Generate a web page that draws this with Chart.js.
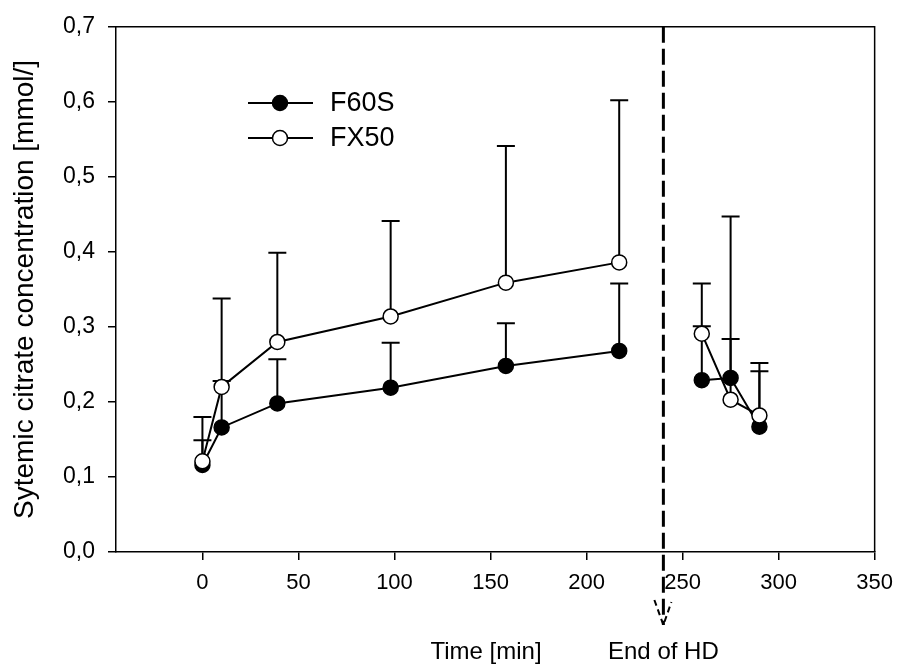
<!DOCTYPE html>
<html>
<head>
<meta charset="utf-8">
<script src="https://cdn.jsdelivr.net/npm/chart.js@4/dist/chart.umd.min.js"></script>
<style>
  body { margin: 0; background: #fff; }
  #wrap { width: 903px; height: 668px; }
</style>
</head>
<body>
<div id="wrap"><canvas id="citrateChart" width="903" height="668"></canvas></div>
<script>
// sampling times [min], during HD and after end of HD
const timesHD = [0, 10, 39, 98, 158, 217];
const timesPost = [260, 275, 290];
const hdEnd = 240;

// mean values [mmol/l]
const f60sHD = [0.116, 0.166, 0.198, 0.219, 0.248, 0.268];
const f60sPost = [0.229, 0.232, 0.167];
const fx50HD = [0.121, 0.220, 0.280, 0.314, 0.359, 0.386];
const fx50Post = [0.291, 0.203, 0.182];

// top of error bars (mean + SD)
const f60sErrHD = [0.149, 0.228, 0.257, 0.279, 0.305, 0.358];
const f60sErrPost = [0.301, 0.284, 0.241];
const fx50ErrHD = [0.180, 0.338, 0.399, 0.441, 0.541, 0.602];
const fx50ErrPost = [0.358, 0.447, 0.252];

const xTicks = [0, 50, 100, 150, 200, 250, 300, 350];
const yTicks = [0, 0.1, 0.2, 0.3, 0.4, 0.5, 0.6, 0.7];

const FONT = "'Liberation Sans', Arial, sans-serif";

function points(tA, vA, tB, vB) {
  const pts = tA.map((t, i) => ({ x: t, y: vA[i] }));
  pts.push({ x: hdEnd, y: null }); // break the line at end of HD
  return pts.concat(tB.map((t, i) => ({ x: t, y: vB[i] })));
}

const errorBars = {
  id: "errorBars",
  beforeDatasetsDraw(chart) {
    const { ctx, scales: { x, y } } = chart;
    const sets = [
      [timesHD.concat(timesPost), f60sHD.concat(f60sPost), f60sErrHD.concat(f60sErrPost)],
      [timesHD.concat(timesPost), fx50HD.concat(fx50Post), fx50ErrHD.concat(fx50ErrPost)]
    ];
    ctx.save();
    ctx.strokeStyle = "#000";
    ctx.lineWidth = 2;
    sets.forEach(([ts, ms, es]) => {
      ts.forEach((t, i) => {
        const px = x.getPixelForValue(t);
        const y0 = y.getPixelForValue(ms[i]);
        const y1 = y.getPixelForValue(es[i]);
        ctx.beginPath();
        ctx.moveTo(px, y0);
        ctx.lineTo(px, y1);
        ctx.moveTo(px - 9, y1);
        ctx.lineTo(px + 9, y1);
        ctx.stroke();
      });
    });
    ctx.restore();
  },
  afterDraw(chart) {
    const { ctx, chartArea: a, scales: { x } } = chart;
    ctx.save();
    // frame top and right
    ctx.strokeStyle = "#000";
    ctx.lineWidth = 1.5;
    ctx.beginPath();
    ctx.moveTo(a.left, a.top);
    ctx.lineTo(a.right, a.top);
    ctx.lineTo(a.right, a.bottom);
    ctx.stroke();

    // end of HD marker
    const hx = x.getPixelForValue(hdEnd);
    ctx.lineWidth = 3;
    ctx.setLineDash([16, 6]);
    ctx.beginPath();
    ctx.moveTo(hx, a.top);
    ctx.lineTo(hx, 625);
    ctx.stroke();
    ctx.setLineDash([6, 4]);
    ctx.lineWidth = 2;
    ctx.beginPath();
    ctx.moveTo(hx - 9, 600);
    ctx.lineTo(hx, 625);
    ctx.lineTo(hx + 8, 602);
    ctx.stroke();
    ctx.setLineDash([]);

    // bottom texts
    ctx.fillStyle = "#000";
    ctx.font = "24px " + FONT;
    ctx.textAlign = "center";
    ctx.textBaseline = "middle";
    ctx.fillText("Time [min]", 486, 652);
    ctx.fillText("End of HD", hx, 652);

    // legend
    const items = [["F60S", "#000", 103], ["FX50", "#fff", 138]];
    ctx.textAlign = "left";
    ctx.font = "27px " + FONT;
    items.forEach(([label, fill, ly]) => {
      ctx.lineWidth = 2;
      ctx.beginPath();
      ctx.moveTo(248, ly);
      ctx.lineTo(313, ly);
      ctx.stroke();
      ctx.beginPath();
      ctx.arc(280, ly, 7.5, 0, Math.PI * 2);
      ctx.fillStyle = fill;
      ctx.fill();
      ctx.lineWidth = 1.5;
      ctx.stroke();
      ctx.fillStyle = "#000";
      ctx.fillText(label, 330, ly + 1);
    });
    ctx.restore();
  }
};

new Chart(document.getElementById("citrateChart").getContext("2d"), {
  type: "line",
  data: {
    datasets: [
      {
        label: "F60S",
        data: points(timesHD, f60sHD, timesPost, f60sPost),
        borderColor: "#000",
        borderWidth: 2,
        backgroundColor: "#000",
        pointBackgroundColor: "#000",
        pointBorderColor: "#000",
        pointRadius: 7.5,
        pointBorderWidth: 1.5,
        spanGaps: false,
        tension: 0,
        order: 1
      },
      {
        label: "FX50",
        data: points(timesHD, fx50HD, timesPost, fx50Post),
        borderColor: "#000",
        borderWidth: 2,
        backgroundColor: "#fff",
        pointBackgroundColor: "#fff",
        pointBorderColor: "#000",
        pointRadius: 7.5,
        pointBorderWidth: 1.5,
        spanGaps: false,
        tension: 0,
        order: 0
      }
    ]
  },
  options: {
    responsive: false,
    animation: false,
    layout: { padding: { top: 21, right: 22, left: 0, bottom: 0 } },
    plugins: { legend: { display: false }, tooltip: { enabled: false } },
    scales: {
      x: {
        type: "linear",
        min: -45,
        max: 350,
        afterBuildTicks: s => { s.ticks = xTicks.map(v => ({ value: v })); },
        afterFit: s => { s.height = 116; },
        grid: { display: true, drawOnChartArea: false, drawTicks: true, tickLength: 8, color: "#000", lineWidth: 1.5 },
        border: { display: true, color: "#000", width: 1.5 },
        ticks: { color: "#000", padding: 10, maxRotation: 0, font: { family: FONT, size: 22 } }
      },
      y: {
        type: "linear",
        min: 0,
        max: 0.7,
        afterBuildTicks: s => { s.ticks = yTicks.map(v => ({ value: v })); },
        afterFit: s => { s.width = 116; },
        grid: { display: true, drawOnChartArea: false, drawTicks: true, tickLength: 8, color: "#000", lineWidth: 1.5 },
        border: { display: true, color: "#000", width: 1.5 },
        ticks: {
          color: "#000",
          padding: 13,
          font: { family: FONT, size: 23 },
          callback: v => v.toFixed(1).replace(".", ",")
        },
        title: {
          display: true,
          text: "Sytemic citrate concentration [mmol/]",
          color: "#000",
          padding: { top: 8, bottom: 0 },
          font: { family: FONT, size: 28 }
        }
      }
    }
  },
  plugins: [errorBars]
});
</script>
</body>
</html>
